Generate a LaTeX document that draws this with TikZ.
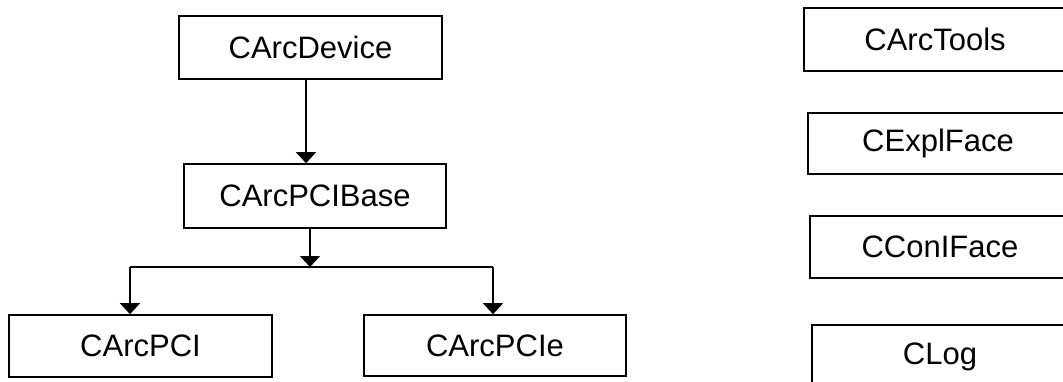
\documentclass[tikz,border=0pt]{standalone}
\usepackage{fontspec}
\setmainfont{Liberation Sans}
\usetikzlibrary{arrows.meta}
\begin{document}
\begin{tikzpicture}[x=1pt,y=-1pt,
  box/.style={draw, line width=1.6pt, inner sep=0pt, minimum width=#1, font=\fontsize{31}{37}\selectfont},
  arr/.style={line width=1.6pt, -{Triangle[width=20pt,length=11pt]}},
  conn/.style={line width=1.6pt}]
\useasboundingbox (0,0) rectangle (1063,381);
\clip (0,0) rectangle (1063,381);
\node[box=263pt, minimum height=63pt] (dev) at (310.5,47.5) {CArcDevice};
\node[box=262pt, minimum height=64pt] (base) at (315,196) {CArcPCIBase};
\node[box=263pt, minimum height=62pt] (pci) at (140.5,346) {CArcPCI};
\node[box=262pt, minimum height=61pt] (pcie) at (495,345.5) {CArcPCIe};
\node[box=262pt, minimum height=63pt] (tools) at (935,39.5) {CArcTools};
\node[box=260pt, minimum height=61pt] (expl) at (938,143.5) {CExplFace};
\node[box=260pt, minimum height=62pt] (con) at (940,247) {CConIFace};
\node[box=256pt, minimum height=63pt] (log) at (940,356.5) {CLog};
\coordinate (j) at (310,267);
\draw[arr] ([xshift=-4.5pt]dev.south) -- ([xshift=-4.5pt]dev.south |- base.north);
\draw[arr] ([xshift=-5pt]base.south) -- ([xshift=-5pt]base.south |- j);
\draw[conn] ([xshift=-10.5pt]pci.north |- j) -- ([xshift=-2pt]pcie.north |- j);
\draw[arr] ([xshift=-10.5pt]pci.north |- j) -- ([xshift=-10.5pt]pci.north);
\draw[arr] ([xshift=-2pt]pcie.north |- j) -- ([xshift=-2pt]pcie.north);
\end{tikzpicture}
\end{document}
